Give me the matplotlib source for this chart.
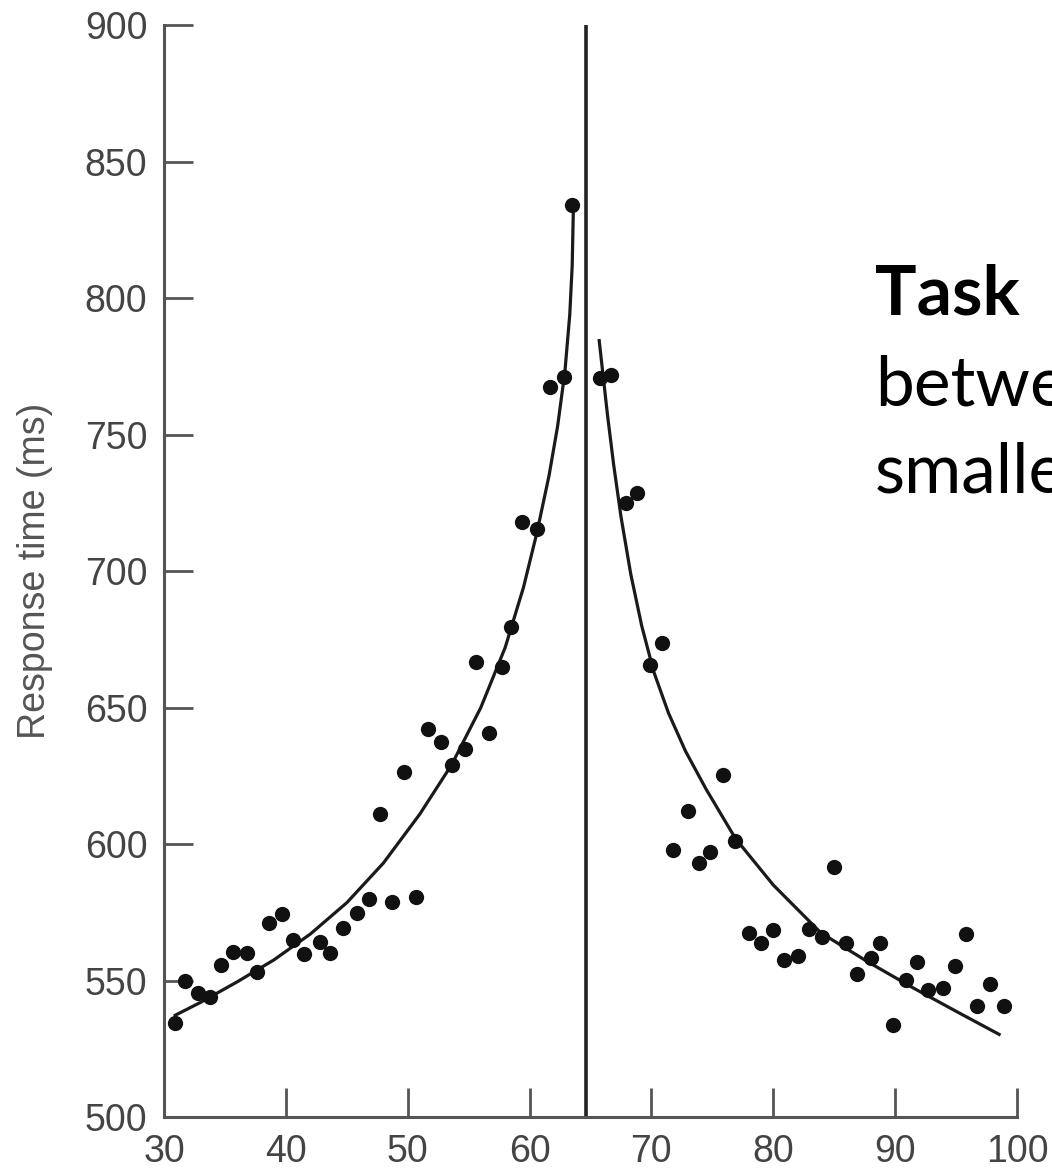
import matplotlib
matplotlib.use('Agg')
import matplotlib.pyplot as plt

# dots left of the boundary (x, response time)
left_x = [30.9, 31.7, 32.8, 33.8, 34.7, 35.7, 36.8, 37.6, 38.6, 39.7,
          40.6, 41.5, 42.8, 43.6, 44.7, 45.8, 46.8, 47.7, 48.7, 49.7,
          50.7, 51.7, 52.7, 53.6, 54.7, 55.6, 56.7, 57.7, 58.5, 59.4,
          60.6, 61.7, 62.8, 63.5]
left_y = [534.5, 549.8, 545.3, 543.8, 555.7, 560.6, 560.0, 553.2, 571.2, 574.3,
          564.8, 559.7, 564.0, 560.1, 569.1, 574.9, 579.7, 610.9, 578.7, 626.4,
          580.7, 642.0, 637.5, 628.9, 634.7, 666.5, 640.8, 665.0, 679.4, 718.1,
          715.3, 767.3, 771.2, 834.0]

# dots right of the boundary
right_x = [65.8, 66.7, 67.9, 68.8, 69.9, 70.9, 71.8, 73.0, 73.9, 74.8,
           75.9, 76.9, 78.0, 79.0, 80.0, 80.9, 82.0, 82.9, 84.0, 85.0,
           86.0, 86.9, 88.0, 88.8, 89.8, 90.9, 91.8, 92.7, 93.9, 94.9,
           95.8, 96.7, 97.8, 98.9]
right_y = [770.6, 771.8, 724.8, 728.7, 665.6, 673.8, 597.8, 612.2, 593.2, 597.2,
           625.3, 601.2, 567.3, 563.9, 568.5, 557.5, 559.1, 568.9, 566.0, 591.7,
           563.6, 552.4, 558.2, 563.9, 533.7, 550.2, 556.9, 546.5, 547.2, 555.3,
           566.9, 540.7, 548.6, 540.7]

# fitted curves
fit_left_x = [30.8, 33.0, 36.0, 39.0, 42.0, 45.0, 48.0, 51.0, 53.6, 56.0,
              58.0, 59.5, 60.6, 61.6, 62.3, 62.9, 63.3, 63.5, 63.6]
fit_left_y = [537.0, 542.0, 549.5, 557.5, 567.0, 578.5, 593.0, 611.0, 629.0, 650.0,
              672.0, 694.0, 714.0, 735.0, 753.0, 773.0, 794.0, 812.0, 834.0]
fit_right_x = [65.7, 66.0, 66.4, 66.9, 67.5, 68.3, 69.2, 70.2, 71.4, 72.8,
               74.5, 76.9, 80.0, 83.9, 87.7, 91.6, 95.1, 98.65]
fit_right_y = [785.0, 773.0, 757.0, 739.0, 720.0, 699.0, 680.0, 663.0, 648.0, 634.0,
               620.0, 602.0, 585.0, 567.5, 557.0, 547.0, 538.5, 530.0]

boundary = 64.6
xticks = [30, 40, 50, 60, 70, 80, 90, 100]
yticks = [500, 550, 600, 650, 700, 750, 800, 850, 900]

plt.rcParams['font.family'] = ['Liberation Sans', 'DejaVu Sans']

fig = plt.figure(figsize=(10.52, 11.71), dpi=100)
ax = fig.add_axes([0.1559, 0.0461, 0.8108, 0.9325])

ax.plot(fit_left_x, fit_left_y, color='#1a1a1a', lw=2.3, solid_capstyle='butt')
ax.plot(fit_right_x, fit_right_y, color='#1a1a1a', lw=2.3, solid_capstyle='butt')
ax.plot(left_x, left_y, 'o', color='#111111', ms=11, mec='none')
ax.plot(right_x, right_y, 'o', color='#111111', ms=11, mec='none')
ax.axvline(boundary, color='#222222', lw=2.6)

ax.set_xlim(30, 100)
ax.set_ylim(500, 900)
ax.set_xticks(xticks)
ax.set_yticks(yticks)

for s in ['top', 'right']:
    ax.spines[s].set_visible(False)
for s in ['left', 'bottom']:
    ax.spines[s].set_color('#555555')
    ax.spines[s].set_linewidth(2.2)

ax.tick_params(axis='both', direction='in', length=21, width=2, color='#555555')
ax.tick_params(axis='y', labelsize=27, labelcolor='#444444', pad=12)
ax.tick_params(axis='x', labelsize=27, labelcolor='#444444', pad=12)

ax.set_ylabel('Response time (ms)', fontsize=27, color='#555555')
ax.yaxis.set_label_coords(-0.130, 0.5)

# slide text, cut off by the right edge
fig.text(0.8317, 0.7310, 'Task', fontsize=50, fontweight='bold',
         family=['Lato', 'DejaVu Sans'], va='baseline', ha='left')
fig.text(0.8317, 0.6541, 'between', fontsize=50,
         family=['Lato', 'DejaVu Sans'], va='baseline', ha='left')
fig.text(0.8317, 0.5790, 'smaller', fontsize=50,
         family=['Lato', 'DejaVu Sans'], va='baseline', ha='left')

fig.savefig('out.png', dpi=100)
